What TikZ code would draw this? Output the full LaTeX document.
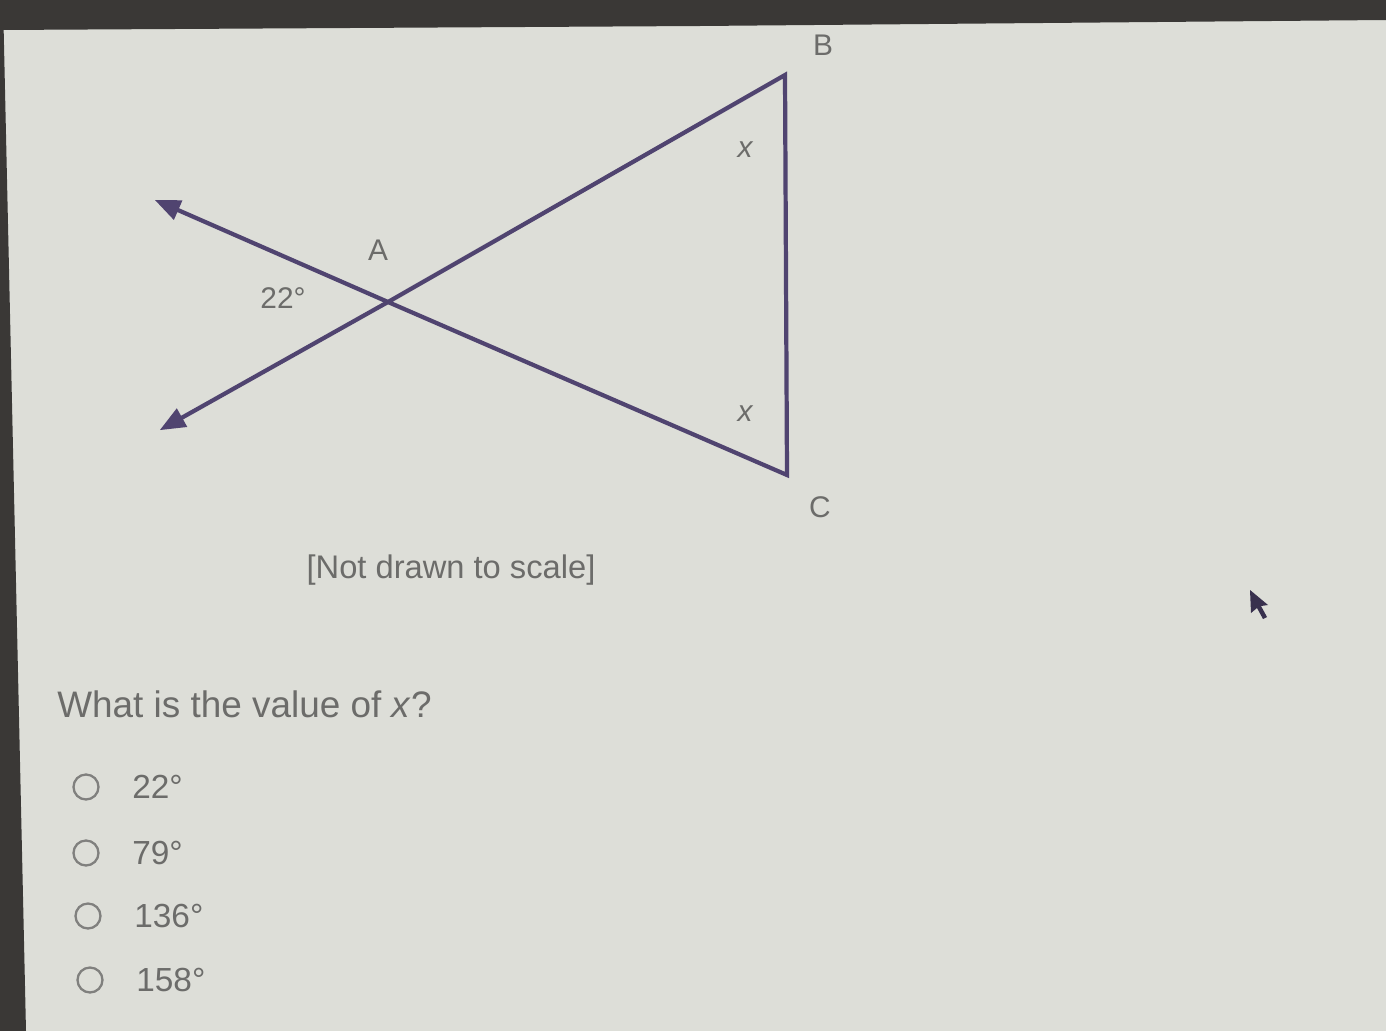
\documentclass[tikz,border=0pt]{standalone}
\usepackage{fontspec}
\setmainfont{Liberation Sans}
\usetikzlibrary{arrows}
\definecolor{screen}{RGB}{221,222,216}
\definecolor{frame}{RGB}{58,56,54}
\definecolor{ink}{RGB}{80,68,112}
\definecolor{txt}{RGB}{108,108,106}
\definecolor{radiogray}{RGB}{128,128,126}

\begin{document}
\begin{tikzpicture}[>=triangle 45,x=0.02cm,y=-0.02cm]
\tikzstyle{lbl}=[text=txt,inner sep=0pt,font=\fontsize{17}{20}\selectfont]
\tikzstyle{big}=[text=txt,inner sep=0pt,font=\fontsize{19}{22}\selectfont]
\tikzstyle{seg}=[draw=ink,line width=2.4pt]
\tikzstyle{radio}=[draw=radiogray,circle,line width=1.3pt,minimum size=0.5cm,inner sep=0pt]
\useasboundingbox (0,0) rectangle (1386,1031);
\fill[screen] (0,0) rectangle (1386,1031);
% edges of the screen in the photo
\fill[frame] (0,0) -- (1386,0) -- (1386,20) -- (700,26) -- (0,30) -- cycle;
\fill[frame] (0,0) -- (3,0) -- (26,1031) -- (0,1031) -- cycle;

\coordinate (A) at (388,302);
\coordinate (B) at (785,75);
\coordinate (C) at (787,475);
\coordinate (P) at (155,200);
\coordinate (Q) at (160,430);
\draw[seg,line join=miter] (A) -- (B) -- (C) -- cycle;
\draw[seg,->] (A) to (P);
\draw[seg,->] (A) to (Q);

\node[lbl] (lA) at (378,250) {A};
\node[lbl] (lB) at (823,45) {B};
\node[lbl] (lC) at (820,507) {C};
\node[lbl] (ang) at (283,298) {22°};
\node[lbl] (xB) at (745,150) {\itshape x};
\node[lbl] (xC) at (745,414) {\itshape x};
\node[lbl,font=\fontsize{18.6}{21}\selectfont] (note) at (451,570) {[Not drawn to scale]};

\node[big,anchor=west,font=\fontsize{21}{24}\selectfont] (quest) at (57,704) {What is the value of \textit{x}?};
\foreach \x/\y/\v in {86/787/22, 86/853/79, 88/916/136, 90/980/158}{
  \node[radio] (r\v) at (\x,\y) {};
  \node[big,anchor=west] (t\v) at ([xshift=46*0.02cm]r\v.center) {\v°};
}

% mouse pointer
\fill[ink!70!black] (1250,590) -- (1251,613) -- (1257,608) -- (1263,619) -- (1267,617) -- (1261,606) -- (1268,605) -- cycle;
\end{tikzpicture}
\end{document}
